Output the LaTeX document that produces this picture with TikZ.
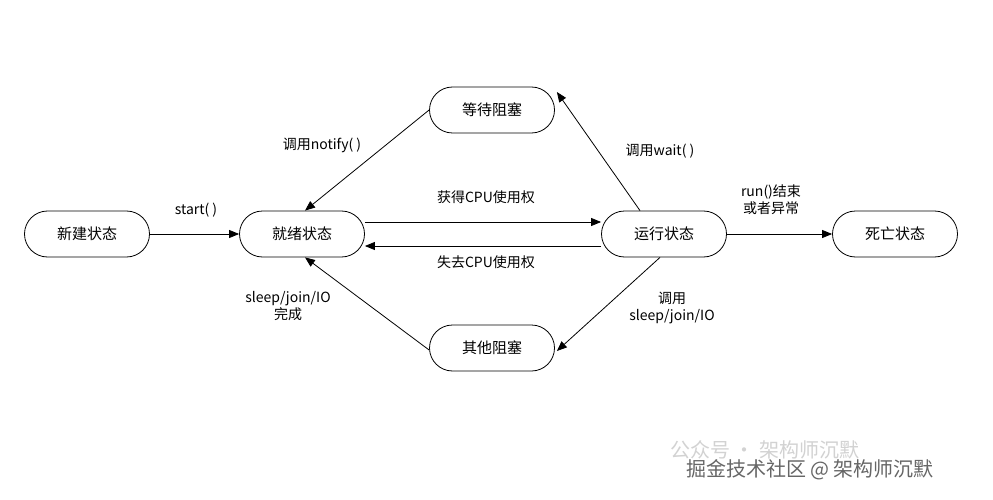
\documentclass[tikz,border=0pt]{standalone}
\usepackage{fontspec}
\setmainfont{Noto Sans CJK SC}
\usetikzlibrary{arrows.meta}
\begin{document}
\begin{tikzpicture}[x=1pt,y=-1pt,
  st/.style={draw,thick,rounded corners=23pt,minimum width=125pt,minimum height=46pt,inner sep=0pt,font=\fontsize{15}{17}\selectfont},
  ar/.style={draw,thick,-{Triangle[length=10pt,width=8pt]}},
  lb/.style={font=\fontsize{14}{17}\selectfont,align=center}]
\useasboundingbox[fill=white] (0,0) rectangle (993,500);
\node[st] (new) at (87,234) {新建状态};
\node[st] (ready) at (302,234) {就绪状态};
\node[st] (wait) at (492,110) {等待阻塞};
\node[st] (run) at (664,234) {运行状态};
\node[st] (dead) at (895,234) {死亡状态};
\node[st] (other) at (492,348) {其他阻塞};
\draw[ar] (new) -- (ready);
\draw[ar] ([yshift=12pt]ready.east) -- ([yshift=12pt]run.west);
\draw[ar] ([yshift=-12pt]run.west) -- ([yshift=-12pt]ready.east);
\draw[ar] (run) -- (dead);
\draw[ar] (wait.west) -- ([xshift=3pt]ready.north);
\draw[ar] ([xshift=-24pt]run.north) -- ([xshift=2pt,yshift=18pt]wait.east);
\draw[ar] ([xshift=-4pt]run.south) -- ([xshift=2pt,yshift=-3pt]other.east);
\draw[ar] ([yshift=-2pt]other.west) -- ([xshift=3pt]ready.south);
\node[lb] (l1) at (196,210) {start( )};
\node[lb] (l2) at (486,197) {获得CPU使用权};
\node[lb] (l3) at (486,262) {失去CPU使用权};
\node[lb] (l4) at (322,145) {调用notify( )};
\node[lb] (l5) at (660,151) {调用wait( )};
\node[lb] (l6) at (771,200) {run()结束\\或者异常};
\node[lb] (l7) at (672,308) {调用\\sleep/join/IO};
\node[lb] (l8) at (288,306) {sleep/join/IO\\完成};
\node[font=\fontsize{20}{22}\selectfont,text=gray!35] (w1) at (765,450) {公众号 · 架构师沉默};
\node[font=\fontsize{20}{22}\selectfont,text=gray!80!black] (w2) at (810,470) {掘金技术社区 @ 架构师沉默};
\end{tikzpicture}
\end{document}
